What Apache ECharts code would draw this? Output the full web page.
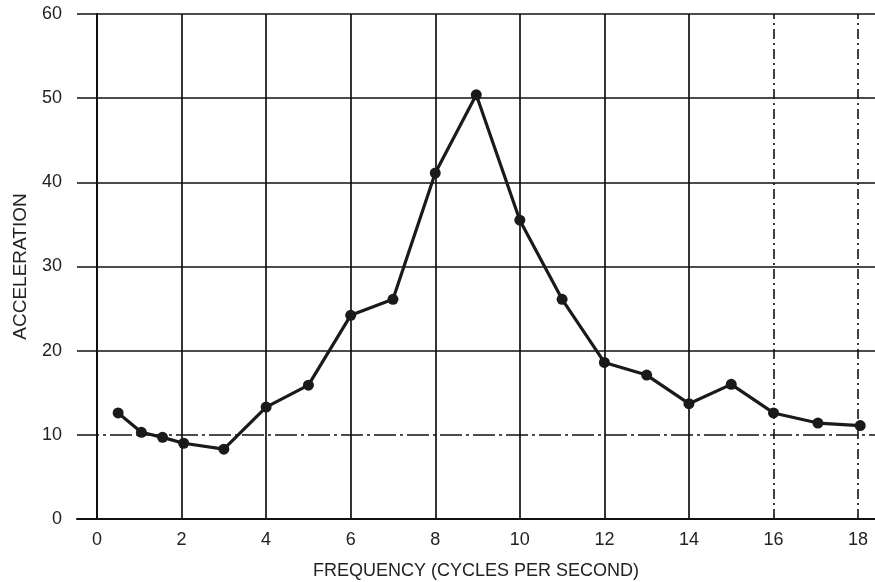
<!DOCTYPE html>
<html>
<head>
<meta charset="utf-8">
<script src="https://cdn.jsdelivr.net/npm/echarts@6/dist/echarts.min.js"></script>
<style>html,body{margin:0;padding:0;background:#fff}#c{width:875px;height:582px}</style>
</head>
<body>
<div id="c"></div>
<script>
// Data
const freq = [0.5, 1.05, 1.55, 2.05, 3.0, 4.0, 5.0, 6.0, 7.0, 8.0, 8.97, 10.0, 11.0, 12.0, 13.0, 14.0, 15.0, 16.0, 17.05, 18.05];
const accel = [12.6, 10.3, 9.7, 9.0, 8.3, 13.3, 15.9, 24.2, 26.1, 41.1, 50.4, 35.5, 26.1, 18.6, 17.1, 13.7, 16.0, 12.6, 11.4, 11.1];
const xTicks = [0, 2, 4, 6, 8, 10, 12, 14, 16, 18];
const xTickLabels = ['0', '2', '4', '6', '8', '10', '12', '14', '16', '18'];
const yTicks = [0, 10, 20, 30, 40, 50, 60];
const xDashed = [16, 18];
const yDashed = [10];

const solid = {color: '#111', width: 1.7, type: 'solid'};
const dashDotH = {color: '#111', width: 1.6, type: [22, 4, 3, 4]};
const dashDotV = {color: '#111', width: 1.6, type: [10, 4, 2, 4]};

const gridLines = [];
xTicks.forEach(v => gridLines.push({xAxis: v, lineStyle: xDashed.includes(v) ? dashDotV : solid}));
yTicks.forEach(v => { if (v > 0) gridLines.push({yAxis: v, lineStyle: yDashed.includes(v) ? dashDotH : solid}); });

const font = 'Liberation Sans';
const chart = echarts.init(document.getElementById('c'));
chart.setOption({
  backgroundColor: '#fff',
  animation: false,
  grid: {left: 77, right: 0, top: 14, bottom: 63, containLabel: false, outerBoundsMode: 'none'},
  xAxis: {
    type: 'value', min: -0.473, max: 18.4,
    name: 'FREQUENCY (CYCLES PER SECOND)', nameLocation: 'middle', nameGap: 43,
    nameTextStyle: {fontFamily: font, fontSize: 18, color: '#222'},
    axisLine: {show: true, lineStyle: {color: '#111', width: 2}},
    axisTick: {show: false},
    splitLine: {show: false},
    axisLabel: {
      customValues: xTicks,
      formatter: v => xTickLabels[xTicks.indexOf(v)] ?? '',
      fontFamily: font, fontSize: 18, color: '#222', margin: 12
    }
  },
  yAxis: {
    type: 'value', min: 0, max: 60, interval: 10,
    name: 'ACCELERATION', nameLocation: 'middle', nameGap: 47,
    nameTextStyle: {fontFamily: font, fontSize: 19, color: '#222'},
    axisLine: {show: true, lineStyle: {color: '#111', width: 2}},
    axisTick: {show: false},
    splitLine: {show: false},
    axisLabel: {fontFamily: font, fontSize: 18, color: '#222', margin: 15}
  },
  series: [{
    type: 'line',
    data: freq.map((f, i) => [f, accel[i]]),
    symbol: 'circle', symbolSize: 11,
    itemStyle: {color: '#1a1a1a'},
    lineStyle: {color: '#1a1a1a', width: 3.2},
    z: 5,
    markLine: {
      silent: true, symbol: 'none', animation: false,
      label: {show: false},
      data: gridLines
    }
  }]
});
</script>
</body>
</html>
